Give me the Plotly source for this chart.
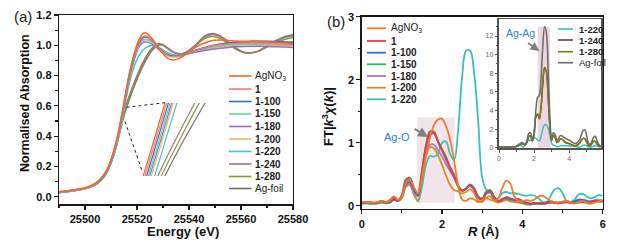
import plotly.graph_objects as go

# ---------------- Panel (a): XANES ----------------
energy = [25490, 25494, 25498, 25501, 25504, 25506, 25508, 25509, 25510, 25511, 25512, 25513,
          25514, 25515, 25516, 25517, 25518, 25519, 25520, 25521, 25522, 25523, 25524, 25526,
          25528, 25530, 25532, 25534, 25536, 25538, 25540, 25543, 25546, 25549, 25552, 25555,
          25558, 25561, 25564, 25567, 25570, 25574, 25577, 25580]

xanes_agno3 = [0.035, 0.042, 0.052, 0.065, 0.090, 0.120, 0.165, 0.200, 0.245, 0.300, 0.365, 0.440,
               0.530, 0.625, 0.720, 0.810, 0.885, 0.950, 1.005, 1.045, 1.072, 1.082, 1.075, 1.040,
               0.990, 0.945, 0.912, 0.903, 0.912, 0.932, 0.958, 0.992, 1.015, 1.032, 1.035, 1.032,
               1.028, 1.026, 1.027, 1.027, 1.024, 1.018, 1.015, 1.012]
xanes_1 = [0.032, 0.040, 0.050, 0.063, 0.087, 0.117, 0.162, 0.197, 0.241, 0.295, 0.359, 0.434,
           0.523, 0.617, 0.713, 0.803, 0.877, 0.940, 0.992, 1.030, 1.053, 1.062, 1.058, 1.030,
           0.990, 0.955, 0.932, 0.924, 0.926, 0.936, 0.950, 0.968, 0.983, 0.995, 1.003, 1.008,
           1.012, 1.014, 1.015, 1.014, 1.012, 1.008, 1.005, 1.003]
xanes_1_100 = [0.031, 0.039, 0.049, 0.062, 0.085, 0.114, 0.158, 0.193, 0.236, 0.290, 0.353, 0.426,
               0.515, 0.609, 0.704, 0.795, 0.870, 0.933, 0.985, 1.023, 1.046, 1.055, 1.052, 1.027,
               0.990, 0.957, 0.936, 0.928, 0.930, 0.940, 0.953, 0.970, 0.985, 0.998, 1.008, 1.015,
               1.020, 1.024, 1.026, 1.027, 1.027, 1.025, 1.022, 1.020]
xanes_1_150 = [0.030, 0.038, 0.048, 0.061, 0.084, 0.112, 0.155, 0.190, 0.233, 0.286, 0.348, 0.420,
               0.508, 0.601, 0.696, 0.786, 0.860, 0.922, 0.973, 1.010, 1.032, 1.040, 1.038, 1.018,
               0.985, 0.955, 0.935, 0.928, 0.930, 0.938, 0.950, 0.965, 0.978, 0.988, 0.996, 1.002,
               1.006, 1.008, 1.009, 1.009, 1.008, 1.006, 1.004, 1.003]
xanes_1_180 = [0.030, 0.038, 0.048, 0.060, 0.083, 0.111, 0.153, 0.187, 0.230, 0.282, 0.343, 0.415,
               0.502, 0.594, 0.689, 0.777, 0.850, 0.910, 0.960, 0.995, 1.015, 1.022, 1.021, 1.005,
               0.978, 0.952, 0.935, 0.928, 0.929, 0.935, 0.944, 0.956, 0.966, 0.974, 0.981, 0.986,
               0.990, 0.992, 0.993, 0.993, 0.992, 0.990, 0.988, 0.986]
xanes_1_200 = [0.029, 0.037, 0.047, 0.059, 0.082, 0.110, 0.151, 0.184, 0.226, 0.277, 0.337, 0.408,
               0.495, 0.587, 0.682, 0.772, 0.848, 0.912, 0.965, 1.004, 1.026, 1.035, 1.034, 1.017,
               0.988, 0.960, 0.940, 0.932, 0.932, 0.938, 0.947, 0.960, 0.972, 0.982, 0.990, 0.996,
               1.000, 1.002, 1.003, 1.003, 1.002, 1.000, 0.998, 0.997]
xanes_1_220 = [0.029, 0.037, 0.047, 0.059, 0.081, 0.108, 0.148, 0.180, 0.221, 0.270, 0.328, 0.397,
               0.480, 0.572, 0.664, 0.745, 0.812, 0.865, 0.906, 0.938, 0.962, 0.979, 0.990, 0.998,
               0.990, 0.970, 0.950, 0.938, 0.935, 0.940, 0.950, 0.965, 0.980, 0.993, 1.003, 1.010,
               1.014, 1.016, 1.018, 1.020, 1.021, 1.021, 1.021, 1.020]
xanes_1_240 = [0.028, 0.036, 0.046, 0.058, 0.080, 0.108, 0.150, 0.185, 0.226, 0.278, 0.338, 0.410,
               0.487, 0.555, 0.612, 0.665, 0.713, 0.758, 0.800, 0.840, 0.877, 0.911, 0.940, 0.985,
               1.010, 1.004, 0.978, 0.954, 0.943, 0.946, 0.965, 1.008, 1.055, 1.072, 1.057, 1.022,
               0.980, 0.954, 0.951, 0.965, 0.993, 1.030, 1.052, 1.063]
xanes_1_280 = [0.028, 0.036, 0.046, 0.058, 0.080, 0.107, 0.149, 0.184, 0.224, 0.275, 0.334, 0.404,
               0.478, 0.545, 0.601, 0.654, 0.703, 0.748, 0.789, 0.829, 0.866, 0.900, 0.930, 0.978,
               1.005, 1.002, 0.978, 0.955, 0.945, 0.948, 0.965, 1.005, 1.045, 1.058, 1.045, 1.012,
               0.975, 0.952, 0.950, 0.962, 0.988, 1.020, 1.040, 1.052]
xanes_agfoil = [0.027, 0.035, 0.045, 0.057, 0.079, 0.106, 0.147, 0.182, 0.222, 0.272, 0.330, 0.398,
                0.470, 0.535, 0.590, 0.640, 0.688, 0.733, 0.775, 0.815, 0.853, 0.888, 0.920, 0.970,
                1.000, 1.000, 0.978, 0.955, 0.943, 0.946, 0.965, 1.010, 1.060, 1.078, 1.062, 1.025,
                0.982, 0.955, 0.950, 0.965, 0.995, 1.035, 1.058, 1.070]

names_a = ["AgNO<sub>3</sub>", "1", "1-100", "1-150", "1-180", "1-200", "1-220", "1-240", "1-280", "Ag-foil"]
series_a = [xanes_agno3, xanes_1, xanes_1_100, xanes_1_150, xanes_1_180, xanes_1_200,
            xanes_1_220, xanes_1_240, xanes_1_280, xanes_agfoil]
colors_a = ["#F26A21", "#F07C7C", "#3A6DB5", "#6FD3A6", "#9A6CC8", "#E2BC68", "#3CC6C6",
            "#A07A7A", "#8C9A2A", "#707070"]
bold_a = [False, True, True, True, True, True, True, True, True, False]

# ---------------- Panel (b): FT-EXAFS ----------------
r_vals = [round(0.1 * i, 1) for i in range(61)]

ft_agno3 = [0.06, 0.06, 0.055, 0.05, 0.06, 0.08, 0.06, 0.09, 0.15, 0.10, 0.14, 0.36, 0.42, 0.30, 0.20,
            0.45, 0.80, 1.08, 1.28, 1.37, 1.38, 1.26, 1.05, 0.72, 0.32, 0.10, 0.08, 0.12, 0.10, 0.06,
            0.09, 0.12, 0.10, 0.08, 0.12, 0.28, 0.40, 0.35, 0.15, 0.08, 0.07, 0.09, 0.08, 0.10, 0.15,
            0.16, 0.12, 0.08, 0.06, 0.05, 0.07, 0.08, 0.06, 0.04, 0.06, 0.08, 0.05, 0.03, 0.05, 0.07, 0.08]
ft_1 = [0.05, 0.055, 0.06, 0.05, 0.055, 0.08, 0.06, 0.07, 0.12, 0.09, 0.16, 0.40, 0.44, 0.28, 0.20,
        0.55, 0.95, 1.17, 1.17, 1.02, 0.88, 0.74, 0.60, 0.48, 0.32, 0.24, 0.27, 0.33, 0.27, 0.13,
        0.10, 0.20, 0.24, 0.14, 0.07, 0.10, 0.14, 0.12, 0.10, 0.11, 0.08, 0.05, 0.04, 0.05, 0.04,
        0.03, 0.04, 0.06, 0.05, 0.04, 0.05, 0.06, 0.05, 0.04, 0.05, 0.06, 0.05, 0.06, 0.08, 0.07, 0.06]
ft_1_100 = [0.05, 0.05, 0.055, 0.045, 0.05, 0.07, 0.05, 0.06, 0.10, 0.08, 0.14, 0.34, 0.38, 0.25, 0.17,
            0.50, 0.90, 1.12, 1.15, 1.02, 0.88, 0.75, 0.60, 0.47, 0.31, 0.24, 0.27, 0.33, 0.27, 0.14,
            0.11, 0.20, 0.22, 0.13, 0.08, 0.11, 0.13, 0.11, 0.10, 0.10, 0.07, 0.05, 0.03, 0.04, 0.03,
            0.04, 0.06, 0.07, 0.06, 0.05, 0.06, 0.07, 0.06, 0.07, 0.10, 0.10, 0.08, 0.07, 0.08, 0.08, 0.07]
ft_1_150 = [0.04, 0.045, 0.05, 0.04, 0.05, 0.075, 0.05, 0.07, 0.12, 0.09, 0.17, 0.42, 0.44, 0.28, 0.20,
            0.56, 0.96, 1.18, 1.17, 1.02, 0.90, 0.78, 0.62, 0.50, 0.33, 0.25, 0.28, 0.34, 0.28, 0.15,
            0.12, 0.23, 0.25, 0.14, 0.08, 0.10, 0.12, 0.10, 0.09, 0.09, 0.06, 0.04, 0.03, 0.04, 0.05,
            0.04, 0.05, 0.06, 0.05, 0.05, 0.06, 0.05, 0.06, 0.08, 0.09, 0.08, 0.06, 0.06, 0.08, 0.09, 0.09]
ft_1_180 = [0.05, 0.05, 0.055, 0.045, 0.06, 0.08, 0.06, 0.09, 0.14, 0.09, 0.14, 0.32, 0.35, 0.22, 0.15,
            0.45, 0.80, 0.97, 0.97, 0.88, 0.78, 0.66, 0.55, 0.44, 0.31, 0.24, 0.27, 0.31, 0.25, 0.13,
            0.10, 0.19, 0.21, 0.12, 0.07, 0.09, 0.11, 0.09, 0.08, 0.07, 0.05, 0.03, 0.02, 0.03, 0.04,
            0.05, 0.04, 0.05, 0.06, 0.05, 0.06, 0.07, 0.05, 0.06, 0.08, 0.07, 0.06, 0.07, 0.09, 0.08, 0.08]
ft_1_200 = [0.04, 0.04, 0.045, 0.035, 0.04, 0.06, 0.04, 0.05, 0.10, 0.07, 0.12, 0.30, 0.33, 0.18, 0.09,
            0.42, 0.78, 0.93, 0.91, 0.80, 0.65, 0.48, 0.33, 0.25, 0.23, 0.20, 0.22, 0.26, 0.20, 0.08,
            0.06, 0.13, 0.15, 0.08, 0.05, 0.07, 0.09, 0.07, 0.06, 0.05, 0.04, 0.02, 0.02, 0.03, 0.04,
            0.03, 0.04, 0.05, 0.04, 0.04, 0.05, 0.06, 0.05, 0.05, 0.07, 0.06, 0.05, 0.06, 0.07, 0.07, 0.07]
ft_1_220 = [0.04, 0.04, 0.03, 0.03, 0.04, 0.05, 0.04, 0.05, 0.09, 0.08, 0.16, 0.38, 0.40, 0.20, 0.07,
            0.30, 0.65, 0.79, 0.78, 0.82, 1.00, 1.02, 0.82, 0.73, 1.20, 2.05, 2.46, 2.46, 2.10, 1.35,
            0.45, 0.26, 0.22, 0.10, 0.12, 0.20, 0.22, 0.20, 0.20, 0.19, 0.17, 0.16, 0.17, 0.16, 0.12,
            0.06, 0.05, 0.15, 0.26, 0.28, 0.20, 0.08, 0.05, 0.10, 0.18, 0.19, 0.15, 0.12, 0.14, 0.17, 0.16]
ft_1_240 = [0.05, 0.05, 0.05, 0.05, 0.06, 0.08, 0.06, 0.08, 0.11, 0.09, 0.13, 0.20, 0.30, 0.50, 0.36,
            0.30, 0.60, 1.20, 1.25, 0.70, 1.40, 3.30, 3.60, 3.10, 4.40, 7.00, 8.55, 8.15, 5.60, 2.40,
            0.80, 1.30, 1.10, 0.55, 0.70, 0.95, 0.90, 0.70, 0.55, 0.50, 0.45, 0.35, 0.25, 0.20, 0.22,
            0.30, 0.50, 0.80, 1.00, 0.95, 0.60, 0.25, 0.20, 0.45, 0.70, 0.65, 0.35, 0.15, 0.12, 0.15, 0.20]
ft_1_280 = [0.05, 0.05, 0.05, 0.05, 0.06, 0.08, 0.06, 0.08, 0.11, 0.09, 0.13, 0.20, 0.30, 0.50, 0.35,
            0.30, 0.60, 1.20, 1.25, 0.70, 1.40, 3.35, 3.65, 3.10, 4.40, 7.05, 8.65, 8.25, 5.60, 2.40,
            0.80, 1.30, 1.10, 0.55, 0.70, 0.95, 0.90, 0.70, 0.55, 0.50, 0.45, 0.35, 0.25, 0.20, 0.22,
            0.30, 0.50, 0.80, 1.00, 0.95, 0.60, 0.25, 0.20, 0.45, 0.70, 0.65, 0.35, 0.15, 0.12, 0.15, 0.20]
ft_agfoil = [0.05, 0.05, 0.05, 0.05, 0.06, 0.08, 0.06, 0.08, 0.12, 0.10, 0.15, 0.25, 0.35, 0.55, 0.45,
             0.35, 0.80, 1.55, 1.60, 0.90, 1.60, 4.00, 5.40, 5.60, 7.50, 11.0, 13.0, 12.4, 8.50, 3.50,
             1.00, 1.60, 1.40, 0.80, 1.00, 1.30, 1.25, 1.10, 1.00, 0.90, 0.80, 0.70, 0.55, 0.45, 0.45,
             0.60, 0.90, 1.40, 1.85, 1.90, 1.30, 0.50, 0.35, 0.70, 1.15, 1.20, 0.70, 0.30, 0.20, 0.25, 0.30]

names_b = ["AgNO<sub>3</sub>", "1", "1-100", "1-150", "1-180", "1-200", "1-220"]
series_b = [ft_agno3, ft_1, ft_1_100, ft_1_150, ft_1_180, ft_1_200, ft_1_220]
colors_b = ["#F47A30", "#EE3B3B", "#3A6FC0", "#22B86A", "#A27CCB", "#D8901C", "#36C2BA"]
bold_b = [False, True, True, True, True, True, True]

names_inset = ["1-220", "1-240", "1-280", "Ag-foil"]
series_inset = [ft_1_220, ft_1_240, ft_1_280, ft_agfoil]
colors_inset = ["#36C2BA", "#6E3B3B", "#7D7D12", "#6A6A6A"]
bold_inset = [True, True, True, False]

W, H = 625, 249
FONT = "Liberation Sans, Arial, sans-serif"


def px(x):
    return x / W


def py(y):
    return 1 - y / H


fig = go.Figure()

for name, ys, col in reversed(list(zip(names_a, series_a, colors_a))):
    fig.add_trace(go.Scatter(x=energy, y=ys, mode="lines", line=dict(color=col, width=1.5, shape="spline"),
                             xaxis="x", yaxis="y", showlegend=False, hoverinfo="skip"))
for name, ys, col in reversed(list(zip(names_a, series_a, colors_a))):
    fig.add_trace(go.Scatter(x=energy, y=ys, mode="lines", line=dict(color=col, width=1.2, shape="spline"),
                             xaxis="x3", yaxis="y3", showlegend=False, hoverinfo="skip"))
for name, ys, col in reversed(list(zip(names_b, series_b, colors_b))):
    fig.add_trace(go.Scatter(x=r_vals, y=ys, mode="lines", line=dict(color=col, width=1.8, shape="spline"),
                             xaxis="x2", yaxis="y2", showlegend=False, hoverinfo="skip"))
for name, ys, col in zip(names_inset, series_inset, colors_inset):
    fig.add_trace(go.Scatter(x=r_vals, y=ys, mode="lines", line=dict(color=col, width=1.5, shape="spline"),
                             xaxis="x4", yaxis="y4", showlegend=False, hoverinfo="skip"))

axcol = "#1a1a1a"
tickfont = dict(family=FONT, size=11, color="#111", weight="bold")
common = dict(showline=True, mirror=True, linecolor=axcol, linewidth=1.3, ticks="outside",
              ticklen=4, tickwidth=1.2, tickcolor=axcol, showgrid=False, zeroline=False,
              tickfont=tickfont, automargin=False)

inset_font = dict(family=FONT, size=7, color="#666")
inset_common = dict(showline=True, mirror=True, linecolor="#555", linewidth=1.8, ticks="outside",
                    ticklen=2.5, tickwidth=1, tickcolor="#555", showgrid=False, zeroline=False,
                    tickfont=inset_font, automargin=False)

fig.update_layout(
    template="none",
    width=W, height=H, margin=dict(l=0, r=0, t=0, b=0, autoexpand=False),
    paper_bgcolor="white", plot_bgcolor="white", showlegend=False,
    xaxis=dict(domain=[px(59), px(293)], range=[25490, 25580], anchor="y", tick0=25500, dtick=20,
               tickformat="d",
               minor=dict(ticks="outside", dtick=10, tick0=25500, ticklen=2.5, tickcolor=axcol),
               **common),
    yaxis=dict(domain=[py(204.3), py(15)], range=[-0.05, 1.2], anchor="x", tick0=0, dtick=0.2,
               tickformat=".1f",
               minor=dict(ticks="outside", dtick=0.1, tick0=0, ticklen=2.5, tickcolor=axcol),
               **common),
    xaxis2=dict(domain=[px(361.7), px(602.7)], range=[0, 6], anchor="y2", tick0=0, dtick=2,
                minor=dict(ticks="outside", dtick=1, tick0=0, ticklen=2.5, tickcolor=axcol),
                **common),
    yaxis2=dict(domain=[py(209), py(16.7)], range=[-0.05, 3], anchor="x2", tick0=0, dtick=1,
                minor=dict(ticks="outside", dtick=0.5, tick0=0, ticklen=2.5, tickcolor=axcol),
                **common),
    xaxis3=dict(domain=[px(142), px(206)], range=[25514.15, 25517.25], anchor="y3", visible=False,
                automargin=False),
    yaxis3=dict(domain=[py(176), py(103)], range=[0.55, 0.65], anchor="x3", visible=False,
                automargin=False),
    xaxis4=dict(domain=[px(499), px(600.7)], range=[0, 5.8], anchor="y4", tick0=0, dtick=2,
                minor=dict(ticks="outside", dtick=1, tick0=0, ticklen=1.5, tickcolor="#555"),
                **inset_common),
    yaxis4=dict(domain=[py(148.3), py(19.3)], range=[-0.07, 13.8], anchor="x4", tick0=0, dtick=2,
                minor=dict(ticks="outside", dtick=1, tick0=0, ticklen=1.5, tickcolor="#555"),
                **inset_common),
)

shapes = []
shapes.append(dict(type="rect", xref="x2", yref="y2", x0=1.38, x1=2.31, y0=0.05, y1=1.40,
                   fillcolor="rgba(214,178,195,0.35)", line=dict(width=0), layer="below"))
shapes.append(dict(type="rect", xref="x4", yref="y4", x0=2.21, x1=2.91, y0=0.0, y1=13.0,
                   fillcolor="rgba(214,165,190,0.45)", line=dict(width=0), layer="below"))
shapes.append(dict(type="line", xref="paper", yref="paper", x0=px(126.5), y0=py(107.3), x1=px(165), y1=py(102.7),
                   line=dict(color="#222", width=1, dash="dot")))
shapes.append(dict(type="line", xref="paper", yref="paper", x0=px(125), y0=py(121.5), x1=px(141.7), y1=py(170),
                   line=dict(color="#222", width=1, dash="dot")))

annotations = []


def legend(x0, x1, xt, ys, names, colors, bolds, size, lw):
    for y, n, c, b in zip(ys, names, colors, bolds):
        shapes.append(dict(type="line", xref="paper", yref="paper", x0=px(x0), x1=px(x1), y0=py(y), y1=py(y),
                           line=dict(color=c, width=lw)))
        annotations.append(dict(xref="paper", yref="paper", x=px(xt), y=py(y), text=n, showarrow=False,
                                xanchor="left", yanchor="middle",
                                font=dict(family=FONT, size=size, color="#222",
                                          weight="bold" if b else "normal")))


legend(229, 251.5, 253, [76, 89, 101.5, 114, 126.5, 139, 151.5, 164, 176.5, 188.5],
       names_a, colors_a, bold_a, 10, 1.6)
legend(367, 386, 389, [28.3, 41, 52.7, 64.3, 76, 87.7, 99.3],
       names_b, colors_b, bold_b, 10, 1.8)
legend(558, 573, 577, [29, 40, 51.7, 62.7], names_inset, colors_inset, bold_inset, 9.5, 1.6)


def label(x, y, text, size, color="#111", weight="normal", angle=0):
    return dict(xref="paper", yref="paper", x=px(x), y=py(y), text=text, showarrow=False,
                xanchor="center", yanchor="middle", textangle=angle,
                font=dict(family=FONT, size=size, color=color, weight=weight))


annotations += [
    label(23, 16.5, "(a)", 15, "#222"),
    label(336, 21.5, "(b)", 15, "#222"),
    label(25, 103, "Normalised Absorption", 12.5, weight="bold", angle=-90),
    label(183, 231.5, "Energy (eV)", 13, weight="bold"),
    label(328, 117, "FT|<i>k</i><sup>3</sup><i>χ</i>(<i>k</i>)|", 13, weight="bold", angle=-90),
    label(483, 231.5, "<i>R</i> (Å)", 13, weight="bold"),
    label(396.5, 136.5, "Ag-O", 11, "#2C84C6"),
    label(520, 33, "Ag-Ag", 10.5, "#2C84C6"),
    dict(xref="paper", yref="paper", x=px(428), y=py(137), ax=-15, ay=-9, text="", showarrow=True,
         arrowhead=2, arrowsize=1, arrowwidth=2, arrowcolor="#808080"),
    dict(xref="paper", yref="paper", x=px(539.5), y=py(51), ax=-13, ay=-9, text="", showarrow=True,
         arrowhead=2, arrowsize=1, arrowwidth=1.8, arrowcolor="#808080"),
]

fig.update_layout(shapes=shapes, annotations=annotations)
fig.write_html("out.html", config={"displayModeBar": False, "staticPlot": True},
               post_script="document.body.style.margin='0';document.body.style.overflow='hidden';")
